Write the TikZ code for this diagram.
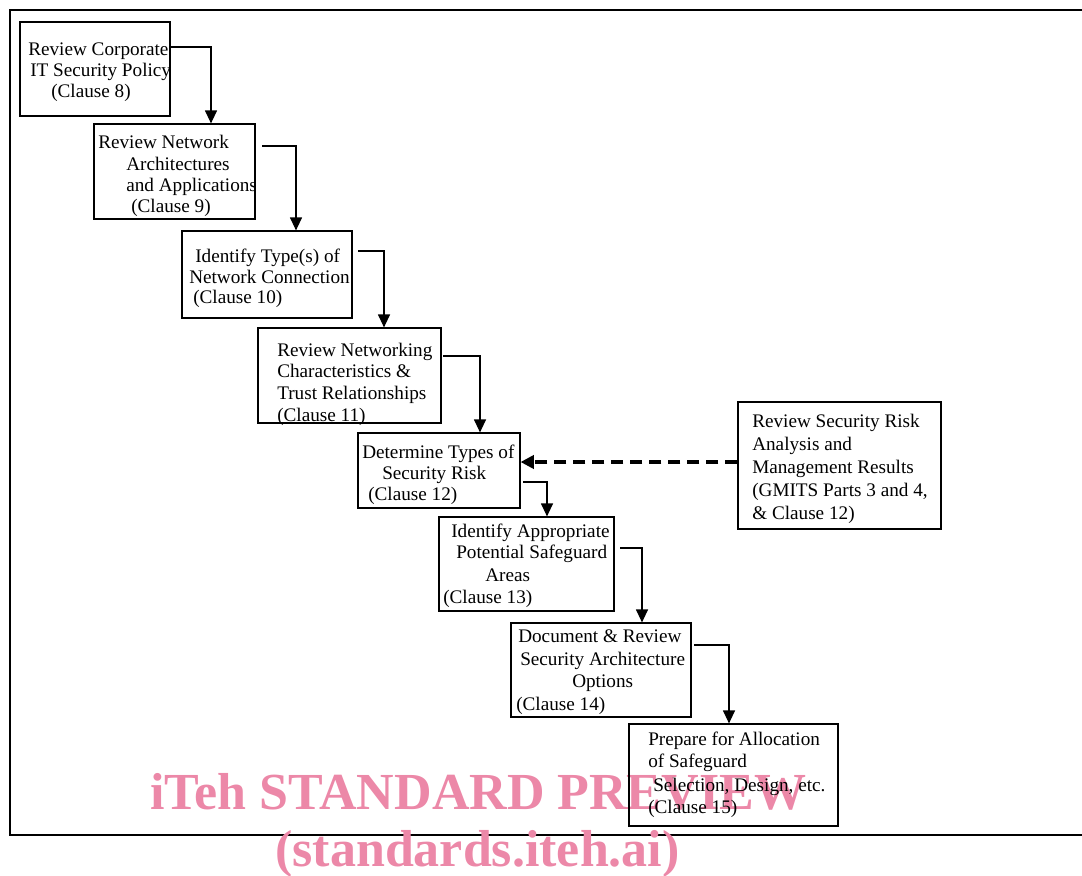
\documentclass[tikz,border=0pt]{standalone}
\usepackage{fontspec}
\setmainfont{Liberation Serif}
\usetikzlibrary{arrows.meta,fit}
\definecolor{wmpink}{RGB}{236,136,168}
\begin{document}
\begin{tikzpicture}[x=0.75pt,y=-0.75pt,
  box/.style={draw,line width=0.9pt,inner sep=0pt},
  txt/.style={anchor=base west,inner sep=0pt,font=\fontsize{14.4}{16}\selectfont},
  wm/.style={anchor=base west,inner sep=0pt,text=wmpink,font=\fontsize{39}{42}\selectfont\bfseries},
  flow/.style={line width=0.9pt,-{Triangle[length=9.75pt,width=9pt]}},
  feed/.style={line width=2.3pt,dash pattern=on 9pt off 5.25pt,-{Triangle[length=10pt,width=10pt]}}]
\useasboundingbox (0,0) rectangle (1082,875);
\clip (0,0) rectangle (1082,875);
% outer frame
\draw[line width=1.1pt] (10,10) rectangle (1095,835);
% watermark
\node[wm] (wm1) at (150,809) {iTeh STANDARD PREVIEW};
\node[wm] (wm2) at (275,866) {(standards.iteh.ai)};
% boxes
\node[box,fit={(20,22) (170,116)}] (b1) {};
\node[box,fit={(94,124) (255,219)}] (b2) {};
\node[box,fit={(182,231) (352,318)}] (b3) {};
\node[box,fit={(258,328) (441,423)}] (b4) {};
\node[box,fit={(358,433) (520,508)}] (b5) {};
\node[box,fit={(439,517) (614,611)}] (b6) {};
\node[box,fit={(511,623) (691,717)}] (b7) {};
\node[box,fit={(629,724) (838,826)}] (b8) {};
\node[box,fit={(738,402) (941,529)}] (b9) {};
% texts
\node[txt] (t1a) at (28,55) {Review Corporate};
\node[txt] (t1b) at (30,76) {IT Security Policy};
\node[txt] (t1c) at (51,97) {(Clause 8)};
\node[txt] (t2a) at (98,148) {Review Network};
\node[txt] (t2b) at (126,170) {Architectures};
\node[txt] (t2c) at (126,191) {and Applications};
\node[txt] (t2d) at (131,212) {(Clause 9)};
\node[txt] (t3a) at (195,262) {Identify Type(s) of};
\node[txt] (t3b) at (189,283) {Network Connection};
\node[txt] (t3c) at (193,303) {(Clause 10)};
\node[txt] (t4a) at (277,356) {Review Networking};
\node[txt] (t4b) at (277,377) {Characteristics \&};
\node[txt] (t4c) at (277,399) {Trust Relationships};
\node[txt] (t4d) at (277,421) {(Clause 11)};
\node[txt] (t5a) at (362,458) {Determine Types of};
\node[txt] (t5b) at (382,479) {Security Risk};
\node[txt] (t5c) at (368,500) {(Clause 12)};
\node[txt] (t6a) at (451,537) {Identify Appropriate};
\node[txt] (t6b) at (456,558) {Potential Safeguard};
\node[txt] (t6c) at (485,581) {Areas};
\node[txt] (t6d) at (443,603) {(Clause 13)};
\node[txt] (t7a) at (518,642) {Document \& Review};
\node[txt] (t7b) at (520,665) {Security Architecture};
\node[txt] (t7c) at (572,687) {Options};
\node[txt] (t7d) at (516,710) {(Clause 14)};
\node[txt] (t8a) at (648,745) {Prepare for Allocation};
\node[txt] (t8b) at (648,767) {of Safeguard};
\node[txt] (t8c) at (653,791) {Selection, Design, etc.};
\node[txt] (t8d) at (648,813) {(Clause 15)};
\node[txt] (t9a) at (752,427) {Review Security Risk};
\node[txt] (t9b) at (752,450) {Analysis and};
\node[txt] (t9c) at (752,473) {Management Results};
\node[txt] (t9d) at (752,496) {(GMITS Parts 3 and 4,};
\node[txt] (t9e) at (752,519) {\& Clause 12)};
% connector corner coordinates
\coordinate (k1) at (211,47);
\coordinate (s2) at (262,146); \coordinate (k2) at (296,146);
\coordinate (s3) at (358,251); \coordinate (k3) at (384,251);
\coordinate (s4) at (443,356); \coordinate (k4) at (480,356);
\coordinate (s5) at (523,482); \coordinate (k5) at (547,482);
\coordinate (s6) at (620,548); \coordinate (k6) at (642,548);
\coordinate (s7) at (694,645); \coordinate (k7) at (729,645);
\coordinate (d9) at (0,462);
% connectors
\draw[flow] (b1.east |- k1) -| (b2.north -| k1);
\draw[flow] (s2) -| (b3.north -| k2);
\draw[flow] (s3) -| (b4.north -| k3);
\draw[flow] (s4) -| (b5.north -| k4);
\draw[flow] (s5) -| (b6.north -| k5);
\draw[flow] (s6) -| (b7.north -| k6);
\draw[flow] (s7) -| (b8.north -| k7);
\draw[feed] (b9.west |- d9) -- (b5.east |- d9);
\end{tikzpicture}
\end{document}
